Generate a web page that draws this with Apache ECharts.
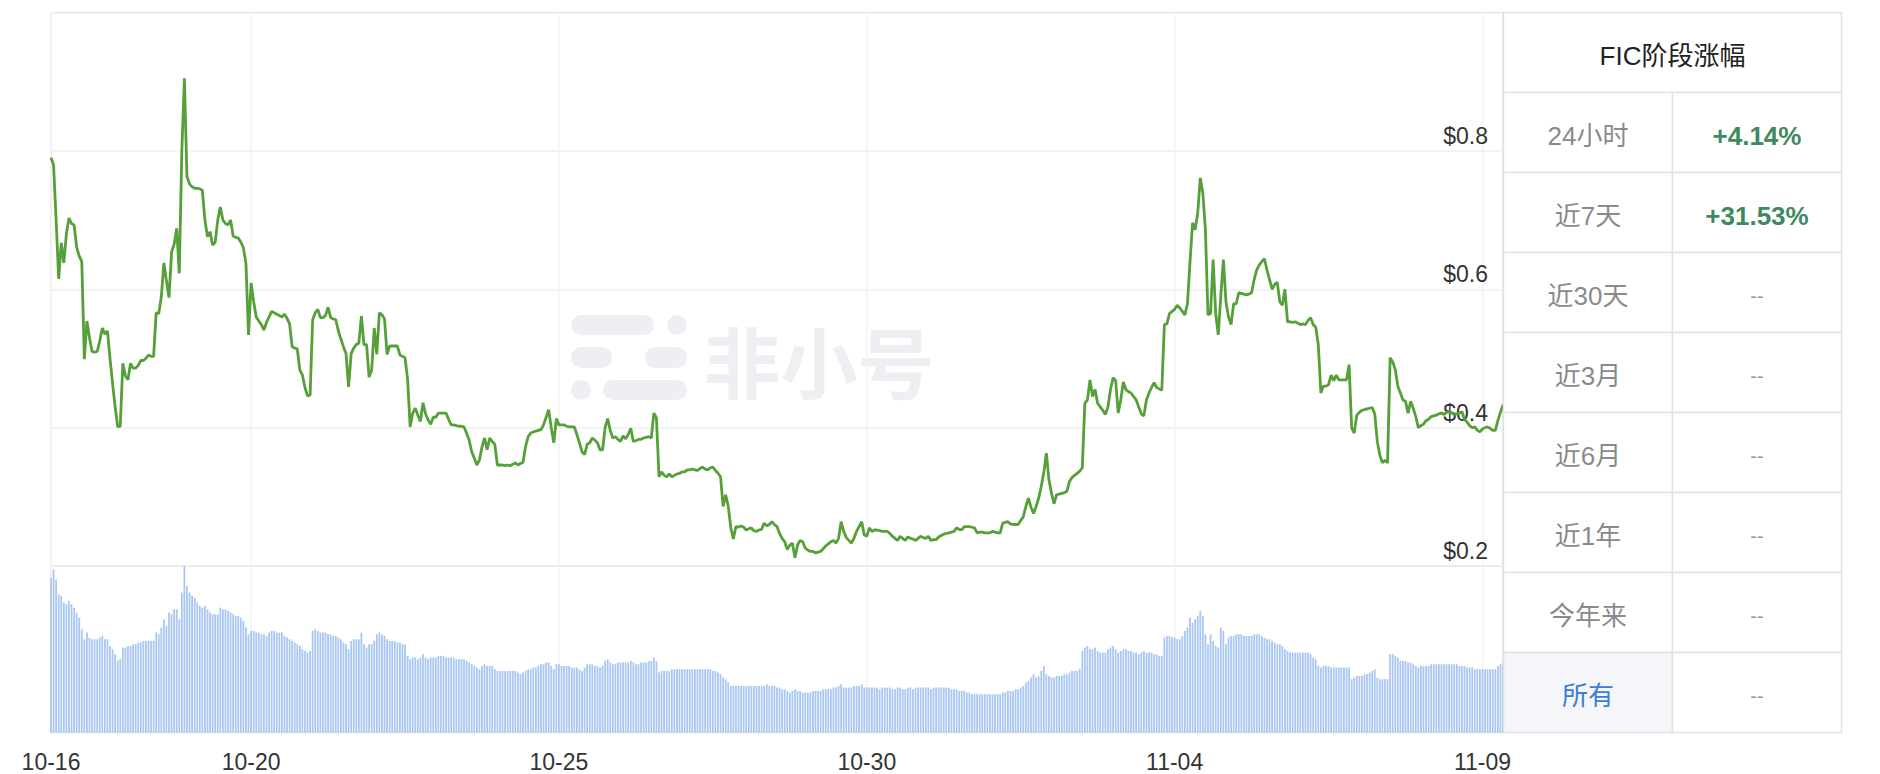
<!DOCTYPE html>
<html><head><meta charset="utf-8">
<script src="https://cdn.jsdelivr.net/npm/echarts@6/dist/echarts.min.js"></script>
<style>html,body{margin:0;padding:0;background:#fff}#c{width:1880px;height:774px}</style>
</head><body><div id="c"></div>
<script>
// ---- data ----
const startMonth = 10, startDay = 16, startHour = 18; // first hourly point: 10-16 18:00
const tickLabels = ['10-16','10-20','10-25','10-30','11-04','11-09'];
const priceTicks = [0.2, 0.4, 0.6, 0.8];
const price = [
0.790,0.780,0.700,0.615,0.667,0.638,0.680,0.703,0.695,0.693,
0.661,0.648,0.640,0.499,0.554,0.530,0.510,0.509,0.510,0.525,
0.544,0.535,0.540,0.500,0.464,0.430,0.401,0.402,0.493,0.475,
0.469,0.493,0.486,0.486,0.490,0.497,0.497,0.500,0.505,0.503,
0.503,0.566,0.565,0.589,0.638,0.612,0.588,0.654,0.665,0.688,
0.623,0.800,0.905,0.763,0.752,0.748,0.746,0.746,0.745,0.743,
0.700,0.676,0.683,0.664,0.668,0.700,0.719,0.700,0.695,0.693,
0.700,0.677,0.675,0.674,0.668,0.660,0.637,0.534,0.609,0.582,
0.560,0.554,0.549,0.541,0.552,0.560,0.568,0.566,0.564,0.562,
0.560,0.564,0.558,0.550,0.517,0.515,0.514,0.483,0.476,0.458,
0.446,0.447,0.556,0.566,0.571,0.559,0.559,0.562,0.574,0.559,
0.557,0.556,0.540,0.528,0.517,0.507,0.459,0.507,0.515,0.520,
0.522,0.561,0.520,0.520,0.473,0.483,0.544,0.506,0.566,0.563,
0.557,0.506,0.518,0.518,0.518,0.518,0.505,0.503,0.501,0.470,
0.401,0.421,0.428,0.418,0.409,0.436,0.420,0.411,0.405,0.415,
0.415,0.421,0.421,0.421,0.421,0.412,0.404,0.404,0.403,0.402,
0.402,0.401,0.392,0.382,0.365,0.356,0.346,0.353,0.372,0.385,
0.368,0.385,0.380,0.376,0.346,0.346,0.346,0.345,0.346,0.345,
0.347,0.349,0.346,0.348,0.350,0.373,0.387,0.392,0.394,0.395,
0.396,0.397,0.404,0.415,0.426,0.400,0.378,0.413,0.404,0.404,
0.404,0.402,0.401,0.401,0.401,0.390,0.378,0.365,0.361,0.376,
0.378,0.385,0.382,0.378,0.368,0.368,0.400,0.413,0.396,0.385,
0.387,0.383,0.380,0.388,0.384,0.390,0.399,0.380,0.381,0.383,
0.383,0.385,0.386,0.387,0.385,0.421,0.414,0.329,0.336,0.331,
0.329,0.333,0.329,0.331,0.333,0.334,0.336,0.336,0.339,0.339,
0.340,0.339,0.338,0.341,0.343,0.340,0.339,0.342,0.343,0.338,
0.334,0.329,0.286,0.303,0.286,0.255,0.239,0.257,0.256,0.258,
0.256,0.252,0.254,0.255,0.251,0.250,0.252,0.253,0.262,0.258,
0.260,0.264,0.260,0.257,0.247,0.240,0.235,0.224,0.230,0.233,
0.212,0.230,0.237,0.235,0.226,0.223,0.221,0.221,0.219,0.220,
0.221,0.225,0.229,0.232,0.235,0.237,0.233,0.240,0.264,0.250,
0.241,0.237,0.233,0.240,0.250,0.257,0.264,0.245,0.243,0.255,
0.250,0.252,0.252,0.251,0.250,0.250,0.250,0.247,0.243,0.240,
0.237,0.243,0.240,0.237,0.242,0.240,0.239,0.237,0.240,0.243,
0.241,0.240,0.243,0.237,0.238,0.238,0.242,0.244,0.246,0.247,
0.248,0.249,0.250,0.255,0.253,0.252,0.257,0.257,0.257,0.256,
0.255,0.248,0.249,0.249,0.248,0.248,0.248,0.250,0.249,0.248,
0.248,0.262,0.263,0.264,0.261,0.260,0.260,0.260,0.266,0.271,
0.286,0.298,0.285,0.276,0.286,0.298,0.315,0.335,0.363,0.325,
0.305,0.290,0.303,0.304,0.305,0.306,0.308,0.322,0.328,0.331,
0.334,0.337,0.342,0.435,0.440,0.469,0.445,0.455,0.435,0.430,
0.425,0.419,0.430,0.455,0.472,0.468,0.421,0.440,0.466,0.455,
0.452,0.450,0.445,0.440,0.430,0.420,0.417,0.440,0.450,0.458,
0.465,0.458,0.456,0.454,0.549,0.550,0.565,0.568,0.571,0.577,
0.573,0.568,0.563,0.579,0.640,0.696,0.686,0.710,0.761,0.739,
0.686,0.563,0.565,0.643,0.565,0.534,0.590,0.643,0.582,0.560,
0.549,0.579,0.579,0.595,0.594,0.593,0.592,0.593,0.595,0.614,
0.628,0.635,0.640,0.644,0.628,0.614,0.600,0.607,0.610,0.582,
0.577,0.600,0.553,0.553,0.552,0.553,0.551,0.549,0.550,0.549,
0.555,0.559,0.549,0.545,0.520,0.450,0.460,0.460,0.462,0.476,
0.468,0.476,0.469,0.469,0.469,0.469,0.491,0.400,0.392,0.418,
0.422,0.425,0.426,0.427,0.428,0.429,0.420,0.380,0.360,0.349,
0.353,0.349,0.501,0.495,0.484,0.460,0.450,0.440,0.438,0.421,
0.438,0.428,0.416,0.400,0.403,0.405,0.410,0.412,0.416,0.417,
0.418,0.420,0.421,0.419,0.422,0.423,0.421,0.420,0.420,0.421,
0.423,0.412,0.408,0.403,0.400,0.401,0.396,0.394,0.398,0.400,
0.401,0.399,0.396,0.396,0.410,0.422,0.433
];
const volume = [
93,98,92,83,82,78,77,79,77,75,
72,69,62,56,60,57,56,56,56,57,
58,56,56,52,50,47,43,44,51,51,
52,52,53,53,54,54,55,55,55,55,
55,60,59,63,68,64,72,71,74,74,
68,84,100,88,84,82,81,78,76,75,
76,74,72,71,71,71,75,74,74,73,
72,71,70,70,69,67,63,59,61,61,
60,60,59,59,58,60,61,61,60,60,
60,58,57,56,55,54,53,52,50,49,
48,49,61,62,61,60,60,60,59,59,
58,58,57,56,54,53,50,55,56,56,
56,60,53,51,53,53,55,59,60,59,
58,56,55,55,55,54,54,53,53,46,
44,45,45,44,45,47,45,44,45,45,
45,46,46,46,45,45,45,45,44,44,
44,44,43,42,41,40,39,38,40,41,
40,40,40,38,37,37,37,37,37,37,
37,37,36,35,36,37,38,38,39,39,
40,41,41,42,42,40,38,41,41,40,
40,40,40,39,39,39,38,37,39,41,
41,41,40,40,39,40,43,44,42,41,
41,42,42,42,42,42,43,42,41,41,
42,42,42,43,43,45,43,36,37,37,
37,37,38,38,38,38,38,38,38,38,
38,38,38,38,38,38,38,38,37,37,
36,35,33,32,30,28,28,28,28,28,
28,28,28,28,28,28,28,28,28,29,
28,28,28,27,27,26,26,25,24,25,
26,25,25,24,24,24,24,25,25,25,
25,26,26,26,26,27,27,28,29,27,
27,27,27,28,28,28,29,27,27,27,
27,27,27,26,27,27,27,27,26,26,
27,27,26,26,27,27,26,27,27,27,
27,27,27,26,27,27,27,27,27,27,
27,26,26,26,25,25,25,24,24,23,
23,23,23,23,23,23,23,23,23,23,
23,24,24,25,25,25,26,26,27,28,
30,31,33,35,33,34,37,40,35,34,
33,33,34,34,34,35,35,36,37,37,
37,38,49,51,52,50,50,51,49,48,
48,48,50,51,52,50,48,49,50,50,
49,49,48,48,47,48,49,48,48,48,
47,47,46,46,57,58,58,57,57,56,
56,58,61,63,69,66,68,70,73,70,
59,53,59,55,52,51,63,61,53,57,
58,58,59,59,59,58,58,58,58,59,
59,59,58,57,56,56,55,54,53,53,
52,50,49,48,48,48,48,48,48,48,
48,47,45,44,40,39,40,40,40,39,
39,39,39,39,39,39,39,32,33,34,
34,34,35,35,36,37,38,33,32,32,
32,32,47,47,46,45,43,43,43,42,
42,41,40,39,40,40,40,40,41,41,
41,41,41,41,41,41,41,41,41,40,
40,40,39,39,39,38,38,38,38,38,
38,38,38,38,40,41,42
];
const tableTitle = 'FIC阶段涨幅';
const periods = ['24小时','近7天','近30天','近3月','近6月','近1年','今年来','所有'];
const changes = ['+4.14%','+31.53%','--','--','--','--','--','--'];
const watermarkText = '非小号';

// ---- build categories (hourly) ----
function pad(n){return (n<10?'0':'')+n;}
const categories = [];
for (let i = 0; i < price.length; i++) {
  const t = startHour + i;
  let d = startDay + Math.floor(t / 24), m = startMonth;
  if (d > 31) { d -= 31; m += 1; }
  categories.push(pad(m) + '-' + pad(d) + ' ' + pad(t % 24) + ':00');
}
function isTick(idx, val) {
  if (idx === 0) return true;
  return val.slice(6) === '00:00' && tickLabels.indexOf(val.slice(0,5)) >= 0;
}

// ---- layout ----
const L = 51, R = 1503, TOP = 12.5, MID = 566, BOT = 732.5;
const TX0 = 1503.5, TXM = 1672.5, TX1 = 1841.5, ROWH = 80;
const FONT = "'Liberation Sans', Arial, 'Noto Sans CJK SC', sans-serif";
const BORDER = '#e2e2e2';

const graphics = [];
// watermark
const wm = '#edeff3';
[[571,315,83,20],[667,315,20,20],[571,347,41,21],[645,347,42,21],[571,380,20,20],[603,380,84,20]].forEach(r => {
  graphics.push({type:'rect', z:0, silent:true, shape:{x:r[0],y:r[1],width:r[2],height:r[3],r:10}, style:{fill:wm}});
});
graphics.push({type:'text', z:0, silent:true, x:819, y:359, style:{text:watermarkText, fill:wm, fontSize:77, fontWeight:'bold', fontFamily:"'Noto Sans CJK SC', sans-serif", align:'center', verticalAlign:'middle'}});

// table
graphics.push({type:'rect', z:10, shape:{x:TX0,y:TOP,width:TX1-TX0,height:ROWH}, style:{fill:'#fff',stroke:BORDER,lineWidth:1.5}});
graphics.push({type:'text', z:11, x:(TX0+TX1)/2, y:TOP+ROWH/2+3, style:{text:tableTitle, fill:'#222', fontSize:26, fontFamily:FONT, align:'center', verticalAlign:'middle'}});
periods.forEach((p, i) => {
  const y = TOP + ROWH*(i+1);
  const last = i === periods.length - 1;
  graphics.push({type:'rect', z:10, shape:{x:TX0,y:y,width:TXM-TX0,height:ROWH}, style:{fill: last ? '#f4f6fa' : '#fff', stroke:BORDER, lineWidth:1.5}});
  graphics.push({type:'rect', z:10, shape:{x:TXM,y:y,width:TX1-TXM,height:ROWH}, style:{fill:'#fff', stroke:BORDER, lineWidth:1.5}});
  graphics.push({type:'text', z:11, x:(TX0+TXM)/2, y:y+ROWH/2+3, style:{text:p, fill: last ? '#3b7dd8' : '#8a8a8a', fontSize:26, fontFamily:FONT, align:'center', verticalAlign:'middle'}});
  const c = changes[i];
  const pos = c.charAt(0) === '+';
  graphics.push({type:'text', z:11, x:(TXM+TX1)/2, y:y+ROWH/2+3, style:{text:c, fill: pos ? '#3d8a5e' : '#9a9a9a', fontSize: pos ? 26 : 20, fontWeight: pos ? 'bold' : 'normal', fontFamily:FONT, align:'center', verticalAlign:'middle'}});
});

const chart = echarts.init(document.getElementById('c'), null, {renderer:'svg'});
chart.setOption({
  animation: false,
  backgroundColor: '#fff',
  grid: [
    {left:L, top:TOP, width:R-L, height:MID-TOP, show:true, borderColor:BORDER, borderWidth:1.5, backgroundColor:'transparent'},
    {left:L, top:MID, width:R-L, height:BOT-MID, show:true, borderColor:BORDER, borderWidth:1.5, backgroundColor:'transparent'}
  ],
  xAxis: [
    {type:'category', gridIndex:0, data:categories, boundaryGap:false,
     axisLine:{show:false}, axisTick:{show:false}, axisLabel:{show:false},
     splitLine:{show:true, interval:isTick, lineStyle:{color:'#f3f3f3', width:1.5}}},
    {type:'category', gridIndex:1, data:categories, boundaryGap:false,
     axisLine:{show:false}, axisTick:{show:false},
     axisLabel:{show:true, interval:isTick, formatter:v => v.slice(0,5), color:'#333', fontSize:23, fontFamily:FONT, margin:18, showMinLabel:true, hideOverlap:false},
     splitLine:{show:true, interval:isTick, lineStyle:{color:'#f3f3f3', width:1.5}}}
  ],
  yAxis: [
    {type:'value', gridIndex:0, position:'right', min:0.2, max:1.0, interval:0.2,
     axisLine:{show:false}, axisTick:{show:false},
     splitLine:{show:true, lineStyle:{color:'#efefef', width:1.5}},
     axisLabel:{inside:true, margin:15, color:'#333', fontSize:23, fontFamily:FONT, verticalAlign:'bottom', lineHeight:30,
       formatter: v => priceTicks.some(t => Math.abs(t - v) < 1e-6) ? '$' + (+v.toFixed(1)) : ''}},
    {type:'value', gridIndex:1, min:0, max:100, show:false, splitLine:{show:false}}
  ],
  series: [
    {type:'bar', xAxisIndex:1, yAxisIndex:1, data:volume, barCategoryGap:'30%', itemStyle:{color:'#a9c7f2'}, silent:true, z:2},
    {type:'line', xAxisIndex:0, yAxisIndex:0, data:price, showSymbol:false, symbol:'none', lineStyle:{color:'#55a038', width:2.8}, z:3, silent:true}
  ],
  graphic: graphics
});
</script>
</body></html>
